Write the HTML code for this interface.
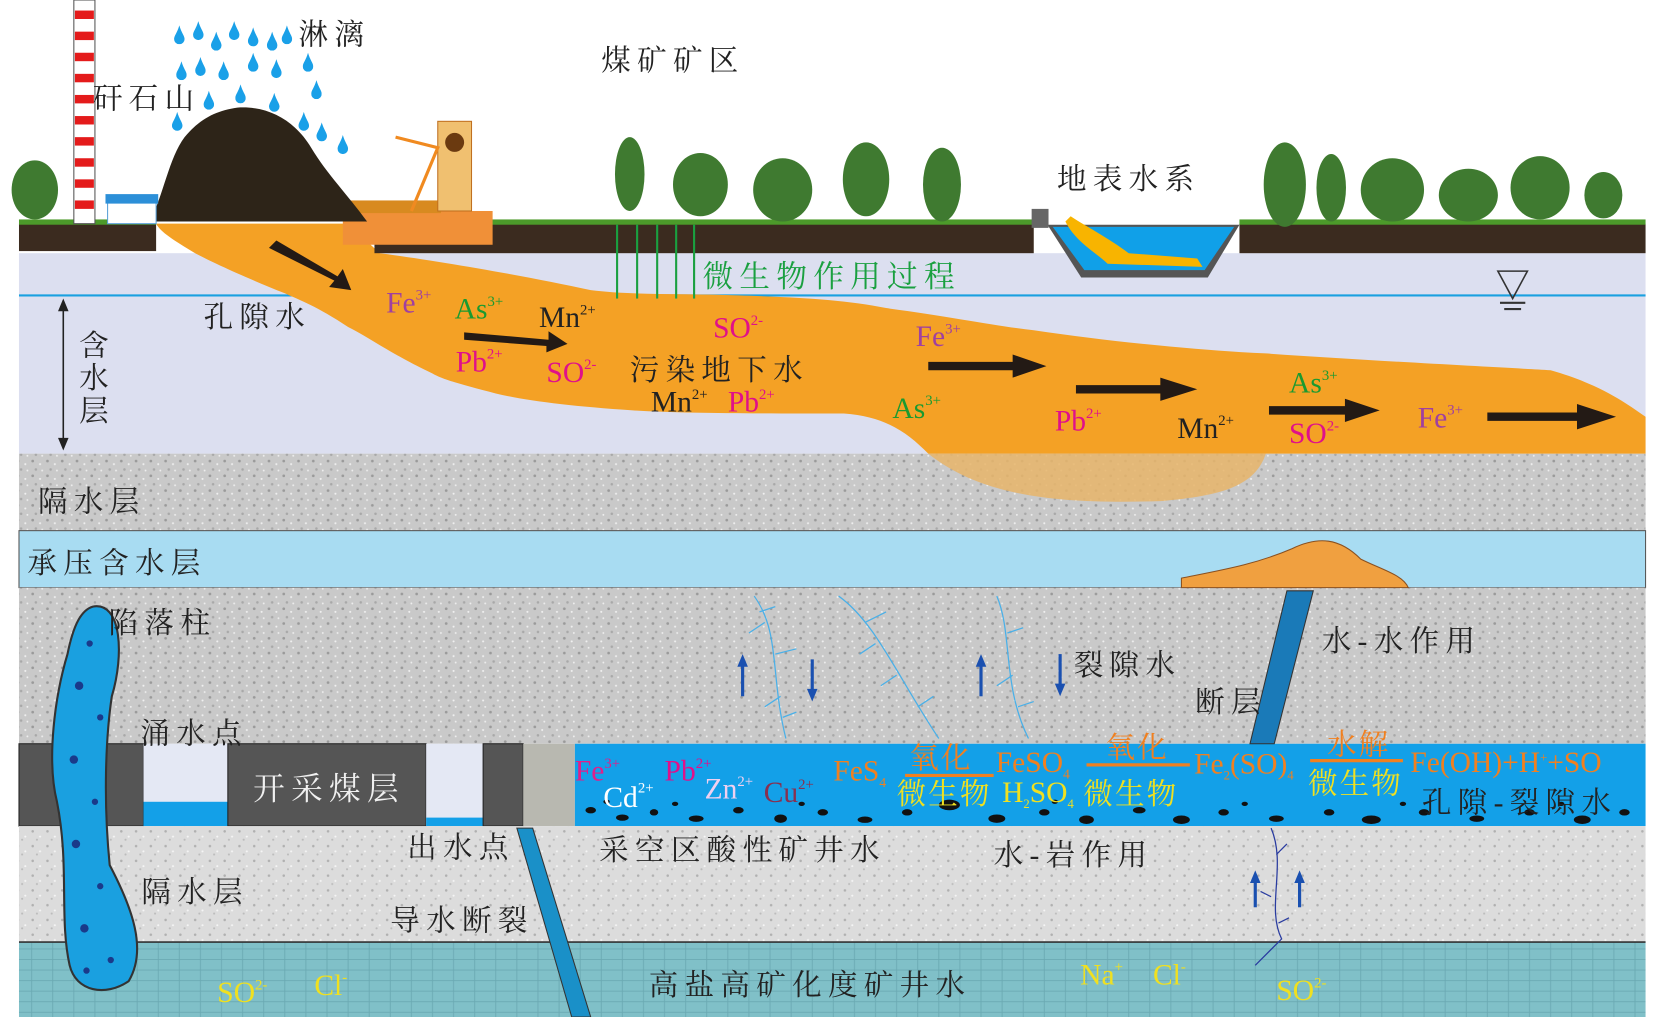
<!DOCTYPE html>
<html><head><meta charset="utf-8"><style>
html,body{margin:0;padding:0;background:#fff;}
svg{display:block;}
text{font-family:"Liberation Serif","Noto Serif CJK SC",serif;}
.cn{font-family:"Liberation Serif","Noto Serif CJK SC","Noto Sans CJK SC",serif;letter-spacing:6px;}
</style></head><body>
<svg width="1654" height="1017" viewBox="0 0 1568 964" preserveAspectRatio="none" xmlns="http://www.w3.org/2000/svg">
<defs>
<pattern id="sp" width="14" height="14" patternUnits="userSpaceOnUse">
<rect width="14" height="14" fill="#c9c9c9"/>
<circle cx="3" cy="3" r="1.3" fill="#9a9a9a"/><circle cx="10" cy="6" r="1" fill="#f0f0f0"/>
<circle cx="6" cy="11" r="1.2" fill="#a8a8a8"/><circle cx="12" cy="12" r="0.9" fill="#eee"/>
</pattern>
<pattern id="sp2" width="14" height="14" patternUnits="userSpaceOnUse">
<rect width="14" height="14" fill="#dcdcdc"/>
<circle cx="3" cy="4" r="1.2" fill="#b0b0b0"/><circle cx="10" cy="9" r="1" fill="#f5f5f5"/>
<circle cx="7" cy="12" r="1" fill="#bcbcbc"/>
</pattern>
<pattern id="tl" width="20" height="10" patternUnits="userSpaceOnUse">
<rect width="20" height="10" fill="#80c0c8"/>
<path d="M0 9.5H20M10 0V10" stroke="#6aa9b2" stroke-width="0.8"/>
</pattern>
<symbol id="drop" viewBox="0 0 10 18"><path d="M5 0 C7 7 10 10 10 13 A5 5 0 0 1 0 13 C0 10 3 7 5 0Z" fill="#1aa0e8"/></symbol>
</defs>

<rect x="18" y="240" width="1542" height="190" fill="#dcdff0"/>
<line x1="18" y1="280" x2="1560" y2="280" stroke="#1aa0e0" stroke-width="2"/>
<rect x="18" y="430" width="1542" height="73" fill="url(#sp)"/>
<rect x="18" y="503" width="1542" height="54" fill="#a8dcf2" stroke="#555" stroke-width="1"/>
<rect x="18" y="557" width="1542" height="148" fill="url(#sp)"/>
<rect x="18" y="705" width="118" height="78" fill="#555" stroke="#222"/>
<rect x="136" y="705" width="80" height="78" fill="#e4e8f4"/>
<rect x="136" y="760" width="80" height="23" fill="#13a0e8"/>
<rect x="216" y="705" width="188" height="78" fill="#555" stroke="#222"/>
<rect x="404" y="705" width="54" height="78" fill="#e4e8f4"/>
<rect x="404" y="775" width="54" height="8" fill="#13a0e8"/>
<rect x="458" y="705" width="38" height="78" fill="#555" stroke="#222"/>
<rect x="496" y="705" width="49" height="78" fill="#b8b8b0"/>
<rect x="545" y="705" width="1015" height="78" fill="#13a0e8"/>
<g fill="#111">
<ellipse cx="560" cy="768" rx="5" ry="3"/><ellipse cx="590" cy="775" rx="6" ry="3"/><ellipse cx="620" cy="770" rx="4" ry="3"/>
<ellipse cx="660" cy="776" rx="7" ry="3"/><ellipse cx="700" cy="768" rx="5" ry="3"/><ellipse cx="740" cy="776" rx="6" ry="4"/>
<ellipse cx="780" cy="770" rx="5" ry="3"/><ellipse cx="820" cy="777" rx="7" ry="3"/><ellipse cx="860" cy="770" rx="5" ry="3"/>
<ellipse cx="900" cy="763" rx="10" ry="5"/><ellipse cx="945" cy="776" rx="8" ry="4"/><ellipse cx="990" cy="770" rx="5" ry="3"/>
<ellipse cx="1030" cy="777" rx="7" ry="4"/><ellipse cx="1080" cy="768" rx="6" ry="3"/><ellipse cx="1120" cy="777" rx="8" ry="4"/>
<ellipse cx="1160" cy="770" rx="5" ry="3"/><ellipse cx="1210" cy="776" rx="7" ry="3"/><ellipse cx="1260" cy="770" rx="5" ry="3"/>
<ellipse cx="1300" cy="777" rx="9" ry="4"/><ellipse cx="1350" cy="770" rx="5" ry="3"/><ellipse cx="1400" cy="776" rx="7" ry="3"/>
<ellipse cx="1450" cy="770" rx="5" ry="3"/><ellipse cx="1500" cy="777" rx="8" ry="4"/><ellipse cx="1540" cy="770" rx="5" ry="3"/>
<ellipse cx="575" cy="760" rx="3" ry="2"/><ellipse cx="640" cy="762" rx="3" ry="2"/><ellipse cx="760" cy="762" rx="3" ry="2"/><ellipse cx="1000" cy="760" rx="3" ry="2"/><ellipse cx="1180" cy="762" rx="3" ry="2"/><ellipse cx="1330" cy="762" rx="3" ry="2"/><ellipse cx="1480" cy="762" rx="3" ry="2"/>
</g>
<rect x="18" y="783" width="1542" height="110" fill="url(#sp2)"/>
<rect x="18" y="893" width="1542" height="71" fill="url(#tl)"/>
<line x1="18" y1="893" x2="1560" y2="893" stroke="#333" stroke-width="1.5"/>

<!-- orange plume -->
<path d="M148 212 L330 212 L360 240 C420 248 500 262 560 275 C600 280 650 278 700 280 C760 282 800 284 840 292 C900 300 950 310 980 313 C1060 325 1150 333 1200 335 C1300 342 1420 348 1470 351 C1520 365 1545 385 1560 395 L1560 430 L880 430 C860 410 840 395 800 392 C720 392 650 392 600 389 C540 385 500 380 470 373 C440 365 420 360 410 354 C370 335 350 320 330 310 C300 290 285 285 270 278 C230 262 200 248 185 240 C165 228 152 220 148 212Z" fill="#f4a125"/>
<path d="M880 430 L1200 430 C1190 460 1160 470 1100 475 C1000 478 930 470 880 430Z" fill="#e7b56a" opacity="0.85"/>

<rect x="18" y="212" width="130" height="26" fill="#3b2b1f"/>
<rect x="355" y="212" width="625" height="28" fill="#3b2b1f"/>
<rect x="1175" y="212" width="385" height="28" fill="#3b2b1f"/>
<rect x="18" y="208" width="130" height="5" fill="#4c9a2a"/>
<rect x="465" y="208" width="515" height="5" fill="#4c9a2a"/>
<rect x="1175" y="208" width="385" height="5" fill="#4c9a2a"/>
<path d="M993 213 L1175 213 L1145 263 L1025 263Z" fill="#555"/>
<path d="M998 215 L1170 215 L1142 256 L1028 256Z" fill="#10a0e8"/>
<path d="M1010 210 C1020 230 1040 240 1050 250 L1140 253 L1135 245 L1070 240 C1050 225 1030 215 1015 205Z" fill="#f8b400"/>
<rect x="978" y="198" width="16" height="18" fill="#666"/>
<rect x="325" y="200" width="142" height="32" fill="#f09038"/>
<rect x="328" y="190" width="90" height="12" fill="#d88a20"/>
<rect x="415" y="115" width="32" height="85" fill="#f0c070" stroke="#c07020"/>
<circle cx="431" cy="135" r="9" fill="#6b3a10"/>
<path d="M375 130 L415 140 L390 200" stroke="#f08a20" stroke-width="3" fill="none"/>
<!-- gangue hill -->
<path d="M142 210 C155 185 160 150 175 130 C190 112 205 105 225 102 C255 100 280 115 295 140 C310 165 330 185 348 210Z" fill="#2d2418"/>
<rect x="70" y="0" width="20" height="212" fill="#fff" stroke="#555"/>
<g fill="#e41b1b"><rect x="71" y="10" width="18" height="8"/><rect x="71" y="30" width="18" height="8"/><rect x="71" y="50" width="18" height="8"/><rect x="71" y="70" width="18" height="8"/><rect x="71" y="90" width="18" height="8"/><rect x="71" y="110" width="18" height="8"/><rect x="71" y="130" width="18" height="8"/><rect x="71" y="150" width="18" height="8"/><rect x="71" y="170" width="18" height="8"/><rect x="71" y="190" width="18" height="8"/></g>
<rect x="102" y="192" width="46" height="20" fill="#fff" stroke="#5aa0d8"/>
<rect x="100" y="184" width="50" height="9" fill="#2c8fd8"/>
<!-- rain drops -->
<g>
<use href="#drop" x="165" y="24" width="10" height="18"/><use href="#drop" x="183" y="20" width="10" height="18"/><use href="#drop" x="200" y="30" width="10" height="18"/><use href="#drop" x="217" y="20" width="10" height="18"/><use href="#drop" x="235" y="26" width="10" height="18"/><use href="#drop" x="253" y="30" width="10" height="18"/><use href="#drop" x="267" y="24" width="10" height="18"/>
<use href="#drop" x="167" y="58" width="10" height="18"/><use href="#drop" x="185" y="54" width="10" height="18"/><use href="#drop" x="207" y="58" width="10" height="18"/><use href="#drop" x="235" y="50" width="10" height="18"/><use href="#drop" x="257" y="56" width="10" height="18"/><use href="#drop" x="287" y="50" width="10" height="18"/>
<use href="#drop" x="193" y="86" width="10" height="18"/><use href="#drop" x="223" y="80" width="10" height="18"/><use href="#drop" x="255" y="88" width="10" height="18"/><use href="#drop" x="295" y="76" width="10" height="18"/>
<use href="#drop" x="163" y="106" width="10" height="18"/><use href="#drop" x="283" y="106" width="10" height="18"/><use href="#drop" x="300" y="116" width="10" height="18"/><use href="#drop" x="320" y="128" width="10" height="18"/>
</g>
<g fill="#3f7a30">
<ellipse cx="33" cy="180" rx="22" ry="28"/><ellipse cx="597" cy="165" rx="14" ry="35"/><ellipse cx="664" cy="175" rx="26" ry="30"/>
<ellipse cx="742" cy="180" rx="28" ry="30"/><ellipse cx="821" cy="170" rx="22" ry="35"/><ellipse cx="893" cy="175" rx="18" ry="35"/>
<ellipse cx="1218" cy="175" rx="20" ry="40"/><ellipse cx="1262" cy="178" rx="14" ry="32"/><ellipse cx="1320" cy="180" rx="30" ry="30"/>
<ellipse cx="1392" cy="185" rx="28" ry="25"/><ellipse cx="1460" cy="178" rx="28" ry="30"/><ellipse cx="1520" cy="185" rx="18" ry="22"/>
</g>
<g fill="#1aa040"><rect x="584" y="213" width="2" height="70"/><rect x="603" y="213" width="2" height="70"/><rect x="622" y="213" width="2" height="70"/><rect x="640" y="213" width="2" height="70"/><rect x="657" y="213" width="2" height="70"/></g>

<path d="M1420 257 L1448 257 L1434 283Z" fill="none" stroke="#333" stroke-width="1.5"/>
<line x1="1422" y1="287" x2="1446" y2="287" stroke="#333" stroke-width="2"/>
<line x1="1426" y1="293" x2="1442" y2="293" stroke="#333" stroke-width="2"/>
<line x1="60" y1="290" x2="60" y2="420" stroke="#222" stroke-width="1.5"/>
<path d="M55 295 L60 283 L65 295Z M55 415 L60 427 L65 415Z" fill="#222"/>

<g fill="#231a15">
<path d="M255 235 L262 228 L320 262 L325 255 L333 275 L312 272 L317 266Z"/>
<path d="M440 315 L520 322 L520 314 L538 326 L518 334 L518 328 L440 322Z"/>
<path d="M880 343 L960 343 L960 336 L992 347 L960 358 L960 351 L880 351Z"/>
<path d="M1020 365 L1100 365 L1100 358 L1135 369 L1100 380 L1100 373 L1020 373Z"/>
<path d="M1203 385 L1275 385 L1275 378 L1308 389 L1275 400 L1275 393 L1203 393Z"/>
<path d="M1410 391 L1495 391 L1495 383 L1532 395 L1495 407 L1495 399 L1410 399Z"/>
</g>

<path d="M88 575 C115 570 118 620 106 660 C100 700 98 760 104 820 C125 860 140 900 122 930 C100 945 72 940 66 915 C56 870 66 820 54 760 C44 720 52 660 64 620 C70 590 78 578 88 575Z" fill="#1aa0e0" stroke="#333" stroke-width="2"/>
<g fill="#1a3a8a">
<circle cx="85" cy="610" r="3"/><circle cx="75" cy="650" r="4"/><circle cx="95" cy="680" r="3"/><circle cx="70" cy="720" r="4"/><circle cx="90" cy="760" r="3"/><circle cx="72" cy="800" r="4"/><circle cx="95" cy="840" r="3"/><circle cx="80" cy="880" r="4"/><circle cx="105" cy="910" r="3"/><circle cx="82" cy="920" r="3"/>
</g>
<path d="M1220 560 L1245 560 L1208 705 L1185 705Z" fill="#1a7ab8" stroke="#333"/>
<path d="M490 785 L505 785 L560 964 L542 964Z" fill="#1a90c8" stroke="#333"/>
<path d="M1120 548 C1160 540 1190 535 1225 520 C1250 508 1270 510 1290 530 C1310 540 1330 545 1335 557 L1120 557Z" fill="#f0a040" stroke="#8a5020"/>
<g stroke="#1a50b0" stroke-width="3">
<line x1="704" y1="660" x2="704" y2="630"/><line x1="770" y1="625" x2="770" y2="655"/><line x1="930" y1="660" x2="930" y2="630"/><line x1="1005" y1="620" x2="1005" y2="650"/>
<line x1="1190" y1="860" x2="1190" y2="835"/><line x1="1232" y1="860" x2="1232" y2="835"/>
</g>
<g fill="#1a50b0">
<path d="M699 632 L704 620 L709 632Z"/><path d="M765 653 L770 665 L775 653Z"/><path d="M925 632 L930 620 L935 632Z"/><path d="M1000 648 L1005 660 L1010 648Z"/>
<path d="M1185 837 L1190 825 L1195 837Z"/><path d="M1227 837 L1232 825 L1237 837Z"/>
</g>
<g stroke="#4ab0e8" stroke-width="1.2" fill="none">
<path d="M715 565 C740 600 730 640 745 700 M725 590 L710 600 M735 620 L755 615 M740 660 L725 670 M720 580 L735 575 M742 680 L755 675"/>
<path d="M795 565 C830 590 850 640 890 700 M820 590 L840 580 M850 640 L835 650 M830 610 L815 620 M870 670 L885 660"/>
<path d="M945 565 C960 600 950 650 975 700 M955 600 L970 595 M960 640 L945 650 M965 670 L980 665"/>
</g>
<path d="M1205 785 C1220 820 1200 860 1215 890 L1190 915 M1210 810 L1220 800 M1205 850 L1195 845 M1212 875 L1222 870" stroke="#2a3ca0" stroke-width="1.2" fill="none"/>

<g class="cn" font-size="28" fill="#222">
<text x="283" y="42">淋漓</text>
<text x="88" y="103">矸石山</text>
<text x="570" y="67">煤矿矿区</text>
<text x="1002" y="179">地表水系</text>
<text x="193" y="310">孔隙水</text>
<text x="597" y="360">污染地下水</text>
<text x="36" y="485">隔水层</text>
<text x="26" y="543">承压含水层</text>
<text x="103" y="600">陷落柱</text>
<text x="1253" y="617">水-水作用</text>
<text x="1018" y="640">裂隙水</text>
<text x="1133" y="675">断层</text>
<text x="133" y="705">涌水点</text>
<text x="386" y="813">出水点</text>
<text x="568" y="815">采空区酸性矿井水</text>
<text x="942" y="820">水-岩作用</text>
<text x="134" y="855">隔水层</text>
<text x="370" y="882">导水断裂</text>
<text x="615" y="943">高盐高矿化度矿井水</text>
<text x="1348" y="770">孔隙-裂隙水</text>
</g>
<text class="cn" x="240" y="758" font-size="30" fill="#f0f0f0">开采煤层</text>
<g class="cn" font-size="28" fill="#222">
<text x="75" y="337">含</text><text x="75" y="368">水</text><text x="75" y="399">层</text>
</g>
<text class="cn" x="666" y="272" font-size="29" fill="#1aa040">微生物作用过程</text>

<g font-size="28">
<text x="366" y="296" fill="#a040a0">Fe<tspan font-size="14" dy="-12">3+</tspan></text>
<text x="431" y="302" fill="#1a9a30">As<tspan font-size="14" dy="-12">3+</tspan></text>
<text x="511" y="310" fill="#222">Mn<tspan font-size="14" dy="-12">2+</tspan></text>
<text x="676" y="320" fill="#e0108a">SO<tspan font-size="14" dy="-12">2-</tspan></text>
<text x="432" y="352" fill="#e0108a">Pb<tspan font-size="14" dy="-12">2+</tspan></text>
<text x="518" y="362" fill="#e0108a">SO<tspan font-size="14" dy="-12">2-</tspan></text>
<text x="617" y="390" fill="#222">Mn<tspan font-size="14" dy="-12">2+</tspan></text>
<text x="690" y="390" fill="#e0108a">Pb<tspan font-size="14" dy="-12">2+</tspan></text>
<text x="868" y="328" fill="#a040a0">Fe<tspan font-size="14" dy="-12">3+</tspan></text>
<text x="846" y="396" fill="#1a9a30">As<tspan font-size="14" dy="-12">3+</tspan></text>
<text x="1000" y="408" fill="#e0108a">Pb<tspan font-size="14" dy="-12">2+</tspan></text>
<text x="1116" y="415" fill="#222">Mn<tspan font-size="14" dy="-12">2+</tspan></text>
<text x="1222" y="372" fill="#1a9a30">As<tspan font-size="14" dy="-12">3+</tspan></text>
<text x="1222" y="420" fill="#e0108a">SO<tspan font-size="14" dy="-12">2-</tspan></text>
<text x="1344" y="405" fill="#a040a0">Fe<tspan font-size="14" dy="-12">3+</tspan></text>

<text x="545" y="740" fill="#e0208a">Fe<tspan font-size="14" dy="-12">3+</tspan></text>
<text x="630" y="740" fill="#e0108a">Pb<tspan font-size="14" dy="-12">2+</tspan></text>
<text x="572" y="765" fill="#fff">Cd<tspan font-size="14" dy="-14">2+</tspan></text>
<text x="668" y="757" fill="#f0d0f0">Zn<tspan font-size="14" dy="-12">2+</tspan></text>
<text x="724" y="760" fill="#883050">Cu<tspan font-size="14" dy="-12">2+</tspan></text>
<text x="790" y="740" fill="#f08020">FeS<tspan font-size="13" dy="6">4</tspan></text>
<text x="944" y="732" fill="#f08020">FeSO<tspan font-size="13" dy="6">4</tspan></text>
<text x="1132" y="733" fill="#f08020">Fe<tspan font-size="12" dy="6">2</tspan><tspan dy="-6">(SO)</tspan><tspan font-size="12" dy="6">4</tspan></text>
<text x="1337" y="732" fill="#f08020">Fe(OH)+H<tspan font-size="12" dy="-10">+</tspan><tspan dy="10">+SO</tspan></text>
<text x="950" y="760" fill="#f0e020">H<tspan font-size="12" dy="6">2</tspan><tspan dy="-6">SO</tspan><tspan font-size="12" dy="6">4</tspan></text>

<text x="206" y="950" fill="#f0e020">SO<tspan font-size="14" dy="-12">2-</tspan></text>
<text x="298" y="943" fill="#f0e020">Cl<tspan font-size="14" dy="-12">-</tspan></text>
<text x="1024" y="933" fill="#f0e020">Na<tspan font-size="14" dy="-12">+</tspan></text>
<text x="1093" y="933" fill="#f0e020">Cl<tspan font-size="14" dy="-12">-</tspan></text>
<text x="1210" y="948" fill="#f0e020">SO<tspan font-size="14" dy="-12">2-</tspan></text>
</g>
<g class="cn" font-size="28" style="letter-spacing:2px">
<text x="862" y="728" fill="#f08020">氧化</text>
<text x="1048" y="718" fill="#f08020">氧化</text>
<text x="1258" y="715" fill="#f08020">水解</text>
<text x="850" y="762" fill="#f0e020">微生物</text>
<text x="1027" y="762" fill="#f0e020">微生物</text>
<text x="1240" y="752" fill="#f0e020">微生物</text>
</g>
<g stroke="#f08020" stroke-width="3"><line x1="858" y1="735" x2="942" y2="735"/><line x1="1030" y1="725" x2="1128" y2="725"/><line x1="1242" y1="721" x2="1330" y2="721"/></g>
</svg>
</body></html>
